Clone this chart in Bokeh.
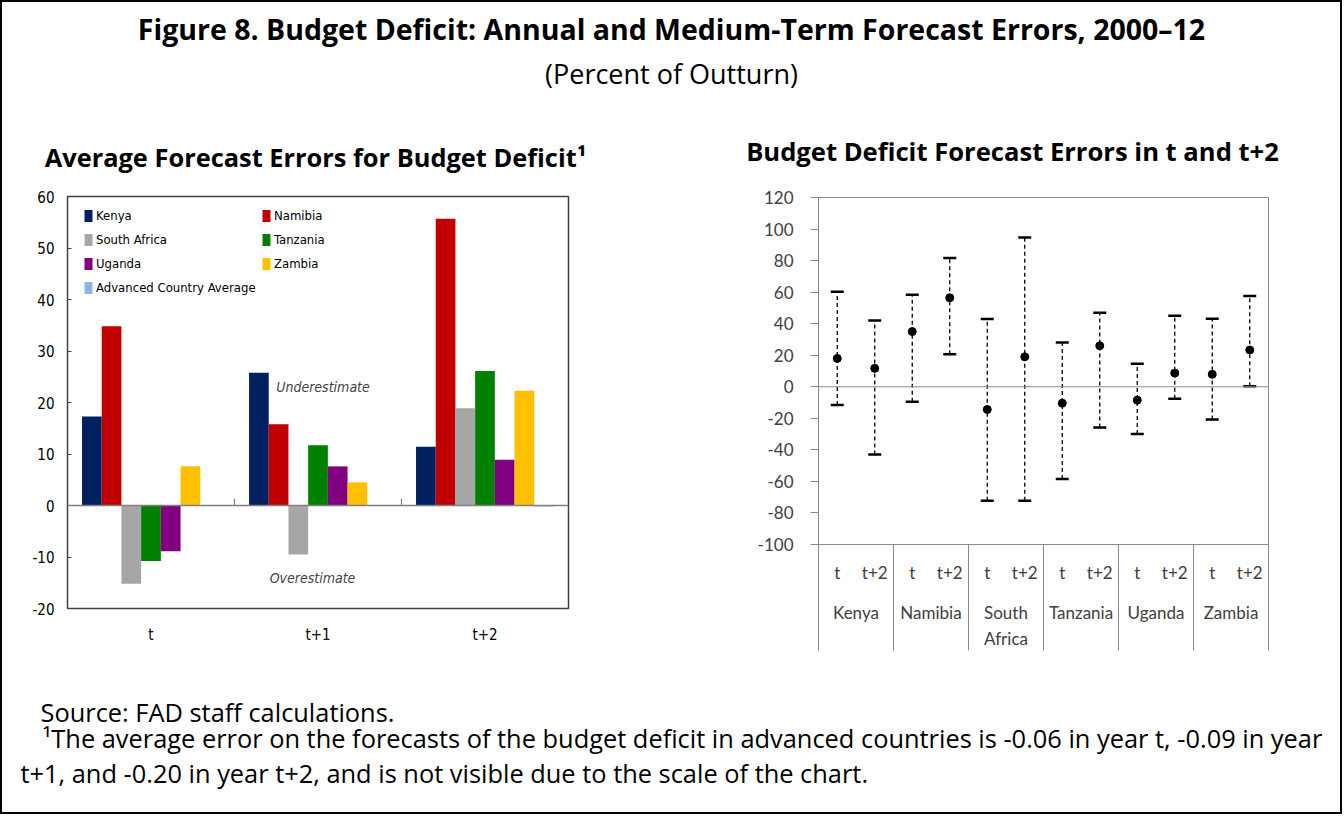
import numpy as np
from bokeh.plotting import figure
from bokeh.models import (Range1d, Label, Legend, LegendItem, FixedTicker,
                          Whisker, TeeHead, ColumnDataSource, Span, LinearAxis)
from bokeh.layouts import column, row
from bokeh.embed import file_html
from bokeh.resources import INLINE

# ---------------- data: left chart (average forecast errors) ----------------
groups = ["t", "t+1", "t+2"]
series_names = ["Kenya", "Namibia", "South Africa", "Tanzania", "Uganda", "Zambia",
                "Advanced Country Average"]
kenya = [17.3, 25.8, 11.4]
namibia = [34.8, 15.8, 55.7]
south_africa = [-15.2, -9.5, 18.9]
tanzania = [-10.8, 11.7, 26.1]
uganda = [-8.9, 7.6, 8.9]
zambia = [7.6, 4.5, 22.3]
advanced = [-0.06, -0.09, -0.20]
series_colors = ["#002060", "#C00000", "#A6A6A6", "#008000", "#800080", "#FFC000", "#8DB4E2"]
left_ticks = [-20, -10, 0, 10, 20, 30, 40, 50, 60]

# ---------------- data: right chart (errors in t and t+2) ----------------
countries = ["Kenya", "Namibia", "South Africa", "Tanzania", "Uganda", "Zambia"]
horizons = ["t", "t+2"]
mean_t = [18.0, 35.0, -14.4, -10.4, -8.5, 7.9]
mean_t2 = [11.7, 56.4, 19.0, 26.0, 8.7, 23.3]
high_t = [60.2, 58.3, 43.0, 28.0, 14.6, 43.2]
high_t2 = [42.0, 81.6, 94.7, 47.0, 45.0, 57.5]
low_t = [-11.6, -9.5, -72.2, -58.5, -29.9, -20.7]
low_t2 = [-43.0, 20.6, -72.2, -25.8, -7.6, 0.4]
right_ticks = [-100, -80, -60, -40, -20, 0, 20, 40, 60, 80, 100, 120]

# ---------------- texts ----------------
title_text = "Figure 8. Budget Deficit: Annual and Medium-Term Forecast Errors, 2000\u201312"
subtitle_text = "(Percent of Outturn)"
left_title = "Average Forecast Errors for Budget Deficit\u00b9"
right_title = "Budget Deficit Forecast Errors in t and t+2"
source_text = "Source: FAD staff calculations."
note_line1 = ("\u00b9The average error on the forecasts of the budget deficit in advanced countries "
              "is -0.06 in year t, -0.09 in year")
note_line2 = "t+1, and -0.20 in year t+2, and is not visible due to the scale of the chart."

SANS = "Open Sans"
NARROW = "DejaVu Sans Condensed, Roboto"
CAL = "Lato"

W = 1338
H_HDR, H_MID, H_FTR = 175, 507, 128
W_L = 690
W_R = W - W_L


def blank(h):
    f = figure(width=W, height=h, x_range=Range1d(0, W), y_range=Range1d(0, h),
               toolbar_location=None, output_backend="svg", x_axis_location=None,
               y_axis_location=None, min_border=0, outline_line_color=None)
    f.xgrid.visible = False
    f.ygrid.visible = False
    return f


def text_label(fig, x, y, text, size, bold=False, align="center"):
    fig.add_layout(Label(x=x, y=y, x_units="screen", y_units="screen", text=text,
                         text_align=align, text_baseline="middle", text_font=SANS,
                         text_font_style="bold" if bold else "normal",
                         text_font_size=size, text_color="black"))


# ---------------- header (figure title + panel titles) ----------------
hdr = blank(H_HDR)
text_label(hdr, W / 2, 149, title_text, "28.5px", bold=True)
text_label(hdr, W / 2, 104, subtitle_text, "27px")
text_label(hdr, 313, 21, left_title, "25.4px", bold=True)
text_label(hdr, 1010, 26, right_title, "25.6px", bold=True)

# ---------------- left chart ----------------
L = figure(width=W_L, height=H_MID, x_range=Range1d(0, len(groups)), y_range=Range1d(-20, 60),
           toolbar_location=None, output_backend="svg", frame_align=False,
           min_border_left=65, min_border_right=124, min_border_top=19, min_border_bottom=76)
L.xgrid.visible = False
L.ygrid.visible = False
L.outline_line_color = "#404040"
L.outline_line_width = 1.5

series_values = [kenya, namibia, south_africa, tanzania, uganda, zambia, advanced]
n = len(series_names)
pitch = 0.118
bar_renderers = []
for i, (vals, col) in enumerate(zip(series_values, series_colors)):
    xs = [g + 0.5 + (i - (n - 1) / 2) * pitch for g in range(len(groups))]
    r = L.vbar(x=xs, top=vals, bottom=0, width=pitch, fill_color=col, line_color=None)
    bar_renderers.append(r)

L.add_layout(Span(location=0, dimension="width", line_color="#808080", line_width=1.5))
bounds = list(range(1, len(groups)))
L.segment(x0=bounds, y0=[0] * len(bounds), x1=bounds, y1=[1.3] * len(bounds),
          line_color="#808080", line_width=1.2)

L.yaxis.ticker = FixedTicker(ticks=left_ticks)
L.yaxis.major_label_overrides = {v: str(v) for v in left_ticks}
L.yaxis.major_label_text_font = NARROW
L.yaxis.major_label_text_font_size = "15px"
L.yaxis.major_label_text_color = "black"
L.yaxis.major_tick_in = 4
L.yaxis.major_tick_out = 0
L.yaxis.minor_tick_line_color = None
L.yaxis.axis_line_color = None
L.yaxis.major_tick_line_color = "#404040"
L.yaxis.major_label_standoff = 13

L.xaxis.ticker = FixedTicker(ticks=[g + 0.5 for g in range(len(groups))])
L.xaxis.major_label_overrides = {g + 0.5: name for g, name in enumerate(groups)}
L.xaxis.major_label_text_font = NARROW
L.xaxis.major_label_text_font_size = "15px"
L.xaxis.major_label_text_color = "black"
L.xaxis.axis_line_color = None
L.xaxis.major_tick_line_color = None
L.xaxis.minor_tick_line_color = None
L.xaxis.major_tick_out = 0
L.xaxis.major_tick_in = 0
L.xaxis.major_label_standoff = 17

leg_kw = dict(glyph_width=10, glyph_height=15, label_height=20, label_standoff=3, spacing=4,
              padding=0, margin=0, border_line_color=None, background_fill_alpha=0,
              label_text_font=NARROW, label_text_font_size="13px", label_text_color="black")
left_col = [0, 2, 4, 6]
right_col = [1, 3, 5]
leg1 = Legend(items=[LegendItem(label=series_names[i], renderers=[bar_renderers[i]]) for i in left_col],
              location=(16, 311), **leg_kw)
leg2 = Legend(items=[LegendItem(label=series_names[i], renderers=[bar_renderers[i]]) for i in right_col],
              location=(194, 335), **leg_kw)
L.add_layout(leg1)
L.add_layout(leg2)

L.add_layout(Label(x=1.53, y=23, text="Underestimate", text_align="center", text_baseline="middle",
                   text_font=NARROW, text_font_style="italic", text_font_size="14px"))
L.add_layout(Label(x=1.467, y=-14.1, text="Overestimate", text_align="center", text_baseline="middle",
                   text_font=NARROW, text_font_style="italic", text_font_size="14px"))

# ---------------- right chart ----------------
nh = len(horizons)
nslots = len(countries) * nh
R = figure(width=W_R, height=H_MID, x_range=Range1d(0, nslots), y_range=Range1d(-100, 120),
           toolbar_location=None, output_backend="svg", x_axis_location=None, frame_align=False,
           min_border_left=126, min_border_right=72, min_border_top=20, min_border_bottom=140)
R.xgrid.visible = False
R.ygrid.visible = False
R.outline_line_color = "#8a8a8a"
R.outline_line_width = 1

R.yaxis.ticker = FixedTicker(ticks=right_ticks)
R.yaxis.major_label_overrides = {v: str(v) for v in right_ticks}
R.yaxis.major_label_text_font = CAL
R.yaxis.major_label_text_font_size = "17px"
R.yaxis.major_label_text_color = "#404040"
R.yaxis.major_tick_out = 8
R.yaxis.major_tick_in = 0
R.yaxis.minor_tick_line_color = None
R.yaxis.axis_line_color = "#8a8a8a"
R.yaxis.major_tick_line_color = "#8a8a8a"
R.yaxis.major_label_standoff = 17

slot_centers = [k + 0.5 for k in range(nslots)]
sub_labels = {k + 0.5: horizons[k % nh] for k in range(nslots)}
country_centers = [c * nh + nh / 2 for c in range(len(countries))]
country_labels = {c * nh + nh / 2: name.replace(" ", "\n") for c, name in enumerate(countries)}
boundaries = [c * nh for c in range(len(countries) + 1)]

SEP_LEN = 106
common = dict(major_tick_out=0, major_tick_in=0, major_tick_line_color=None,
              major_label_text_font=CAL, major_label_text_font_size="17px",
              major_label_text_color="#404040")
ax_sub = LinearAxis(ticker=FixedTicker(ticks=slot_centers, minor_ticks=boundaries),
                    major_label_overrides=sub_labels, major_label_standoff=17 - SEP_LEN,
                    axis_line_color="#8a8a8a", minor_tick_line_color="#8a8a8a",
                    minor_tick_line_width=1, minor_tick_in=0, minor_tick_out=SEP_LEN, **common)
R.add_layout(ax_sub, "below")
ax_cty = LinearAxis(ticker=FixedTicker(ticks=country_centers), major_label_overrides=country_labels,
                    major_label_standoff=16, axis_line_color=None, minor_tick_line_color=None,
                    major_label_text_line_height=1.25, **common)
R.add_layout(ax_cty, "below")

R.add_layout(Span(location=0, dimension="width", line_color="#8a8a8a", line_width=1))

means = [v for pair in zip(mean_t, mean_t2) for v in pair]
highs = [v for pair in zip(high_t, high_t2) for v in pair]
lows = [v for pair in zip(low_t, low_t2) for v in pair]
src = ColumnDataSource(dict(x=slot_centers, mean=means, high=highs, low=lows))
R.add_layout(Whisker(source=src, base="x", upper="high", lower="low", dimension="height",
                     line_color="black", line_width=1.3, line_dash="4 3",
                     upper_head=TeeHead(size=13, line_width=2.5, line_color="black"),
                     lower_head=TeeHead(size=13, line_width=2.5, line_color="black")))
R.scatter(x="x", y="mean", source=src, size=8, color="black")

# ---------------- footer ----------------
ftr = blank(H_FTR)
text_label(ftr, 38, 101, source_text, "25.4px", align="left")
text_label(ftr, 40, 75, note_line1, "25.4px", align="left")
text_label(ftr, 18, 40, note_line2, "25.4px", align="left")

page = column(hdr, row(L, R), ftr, styles={"border": "2px solid black"})
open("out.html", "w").write(file_html(page, INLINE))
